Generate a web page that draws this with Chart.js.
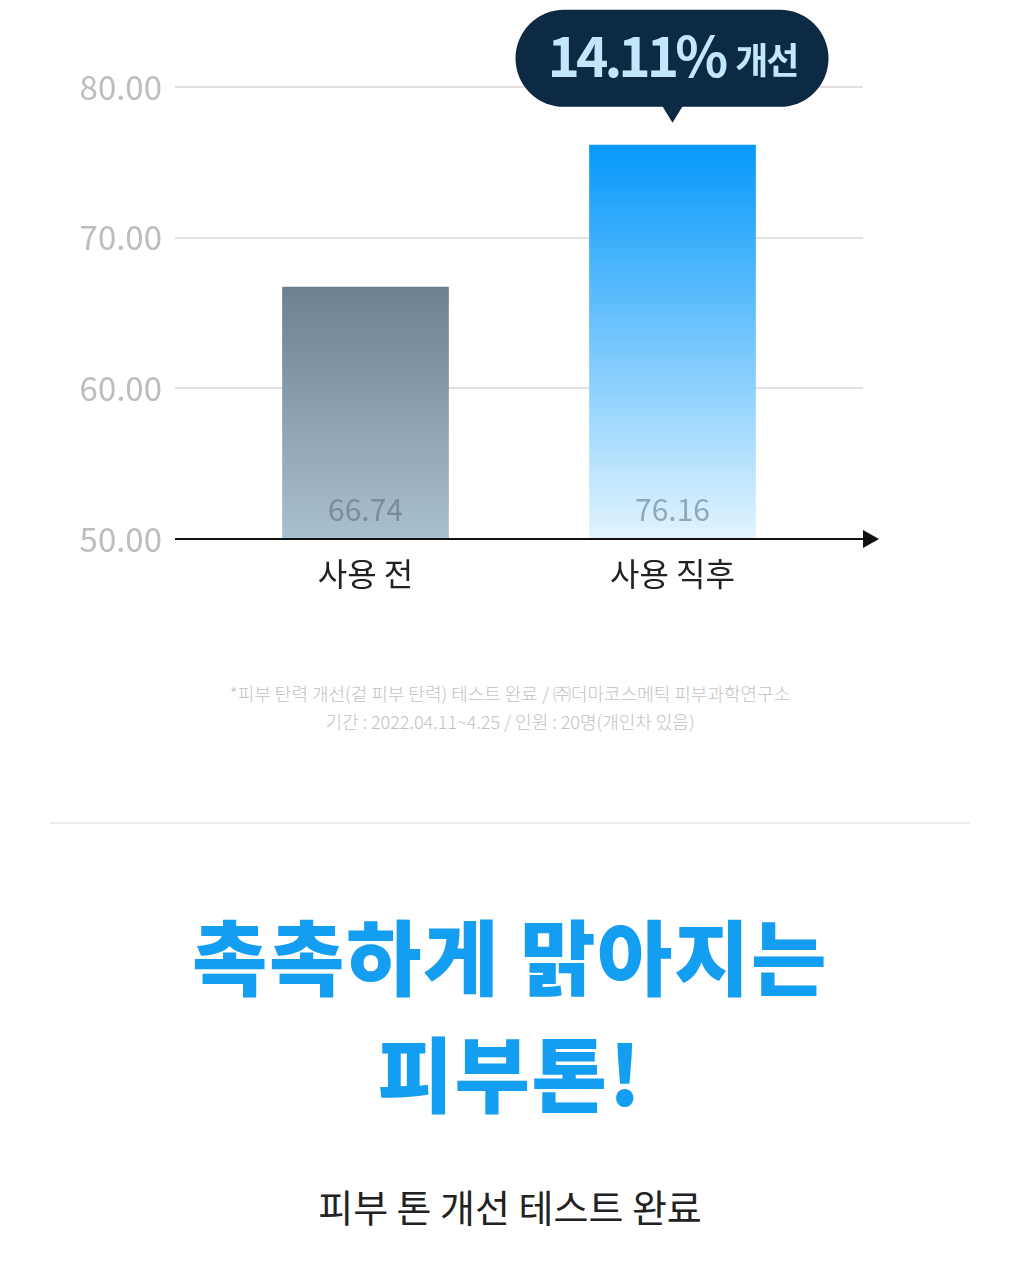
<!DOCTYPE html>
<html>
<head>
<meta charset="utf-8">
<script src="https://cdn.jsdelivr.net/npm/chart.js@4"></script>
<style>
  body { margin: 0; background: #fff; font-family: "Noto Sans CJK KR", "Noto Sans", sans-serif; }
  #wrap { position: relative; width: 1020px; height: 1280px; overflow: hidden; }
  canvas { position: absolute; left: 0; top: 0; }
  .txt { position: absolute; left: 0; width: 1020px; text-align: center; white-space: nowrap; }
  .note { color: #c2c2c2; font-size: 18px; font-weight: 300; line-height: 28px; letter-spacing: 0px; }
  .rule { position: absolute; left: 50px; width: 920px; top: 822px; height: 2px; background: #ececec; }
  .head { color: #149ef1; font-size: 82px; font-weight: 900; line-height: 117px; letter-spacing: 1.5px; }
  .sub { color: #222; font-size: 38px; line-height: 50px; letter-spacing: 0px; }
</style>
</head>
<body>
<div id="wrap">
  <canvas id="chart" width="1020" height="620"></canvas>
  <div class="txt note" style="top:679px">*피부 탄력 개선(겉 피부 탄력) 테스트 완료 / ㈜더마코스메틱 피부과학연구소</div>
  <div class="txt note" style="top:707px">기간 : 2022.04.11~4.25 / 인원 : 20명(개인차 있음)</div>
  <div class="rule"></div>
  <div class="txt head" style="top:895px">촉촉하게 맑아지는<br>피부톤!</div>
  <div class="txt sub" style="top:1181px">피부 톤 개선 테스트 완료</div>
</div>
<script>
const categories = ["사용 전", "사용 직후"];
const values = [66.74, 76.16];
const yTicks = [50, 60, 70, 80];
const improvement = "14.11%";
const improvementWord = "개선";

const FONT = '"Noto Sans CJK KR", "Noto Sans", sans-serif';

// gradient per bar, top to bottom
const barColors = [
  ["#6d808f", "#a9c0d1"],
  ["#0699fb", "#e2f4fe"]
];
const labelColors = ["#7c8d9a", "#8fa9bb"];

function barFill(ctx) {
  const chart = ctx.chart;
  if (!chart.chartArea) return barColors[ctx.dataIndex][0];
  const yScale = chart.scales.y;
  const top = yScale.getPixelForValue(ctx.raw);
  const bottom = yScale.getPixelForValue(yTicks[0]);
  const g = chart.ctx.createLinearGradient(0, top, 0, bottom);
  g.addColorStop(0, barColors[ctx.dataIndex][0]);
  g.addColorStop(1, barColors[ctx.dataIndex][1]);
  return g;
}

const decor = {
  id: "decor",
  beforeDatasetsDraw(chart) {
    const c = chart.ctx;
    const y = chart.scales.y;
    const a = chart.chartArea;
    c.save();
    c.strokeStyle = "#e2e2e2";
    c.lineWidth = 2;
    yTicks.slice(1).forEach(v => {
      const py = Math.round(y.getPixelForValue(v));
      c.beginPath();
      c.moveTo(a.left - 37, py);
      c.lineTo(a.right + 37, py);
      c.stroke();
    });
    c.restore();
  },
  afterDatasetsDraw(chart) {
    const c = chart.ctx;
    const y = chart.scales.y;
    const a = chart.chartArea;
    const meta = chart.getDatasetMeta(0);
    c.save();
    // value labels inside bars
    c.font = "30px " + FONT;
    c.textAlign = "center";
    c.textBaseline = "middle";
    meta.data.forEach((bar, i) => {
      c.fillStyle = labelColors[i];
      c.fillText(values[i].toFixed(2), bar.x, y.getPixelForValue(yTicks[0]) - 29);
    });
    // base axis with arrow
    const by = Math.round(y.getPixelForValue(yTicks[0]));
    c.strokeStyle = "#111";
    c.lineWidth = 2;
    c.beginPath();
    c.moveTo(a.left - 37, by);
    c.lineTo(a.right + 42, by);
    c.stroke();
    c.fillStyle = "#111";
    c.beginPath();
    c.moveTo(a.right + 37, by - 9);
    c.lineTo(a.right + 53, by);
    c.lineTo(a.right + 37, by + 9);
    c.closePath();
    c.fill();
    // callout above the second bar
    const bar = meta.data[1];
    const tipY = bar.y - 22;
    const bx = bar.x;
    const w = 313, h = 97, r = 48.5;
    const left = bx - 157, top = tipY - 16 - h;
    c.fillStyle = "#0c2a43";
    c.beginPath();
    c.roundRect(left, top, w, h, r);
    c.fill();
    c.beginPath();
    c.moveTo(bx - 11, top + h - 2);
    c.lineTo(bx, tipY);
    c.lineTo(bx + 11, top + h - 2);
    c.closePath();
    c.fill();
    c.fillStyle = "#c2e7fb";
    c.textBaseline = "alphabetic";
    c.textAlign = "left";
    c.font = "bold 55px " + FONT;
    c.letterSpacing = "-4px";
    const w1 = c.measureText(improvement).width;
    c.font = "bold 36px " + FONT;
    c.letterSpacing = "-2px";
    const w2 = c.measureText(improvementWord).width;
    const gap = 11;
    const tx = bx - (w1 + gap + w2) / 2;
    c.font = "bold 55px " + FONT;
    c.letterSpacing = "-4px";
    c.fillText(improvement, tx, top + 67);
    c.font = "bold 36px " + FONT;
    c.letterSpacing = "-2px";
    c.fillText(improvementWord, tx + w1 + gap, top + 64);
    c.restore();
  }
};

new Chart(document.getElementById("chart"), {
  type: "bar",
  data: {
    labels: categories,
    datasets: [{
      data: values,
      backgroundColor: barFill,
      borderWidth: 0,
      barPercentage: 0.543,
      categoryPercentage: 1
    }]
  },
  options: {
    responsive: false,
    animation: false,
    layout: { padding: { top: 87, right: 194, left: 0, bottom: 0 } },
    plugins: { legend: { display: false }, tooltip: { enabled: false } },
    scales: {
      x: {
        grid: { display: false, drawTicks: false },
        border: { display: false },
        ticks: { color: "#222", font: { family: FONT, size: 32 }, padding: 16 },
        afterFit: s => { s.height = 81; }
      },
      y: {
        min: 50,
        max: 80,
        grid: { display: false, drawTicks: false },
        border: { display: false },
        ticks: {
          stepSize: 10,
          color: "#bdbdbd",
          font: { family: FONT, size: 33 },
          padding: 50,
          callback: v => v.toFixed(2)
        },
        afterFit: s => { s.width = 212; }
      }
    }
  },
  plugins: [decor]
});
</script>
</body>
</html>
